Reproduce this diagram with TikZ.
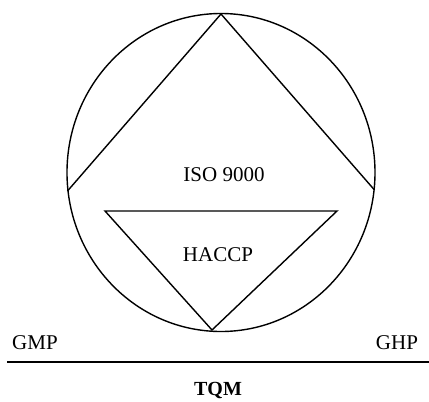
\documentclass[tikz,border=0pt]{standalone}
\usepackage{fontspec}
\setmainfont{Liberation Serif}
\begin{document}
\begin{tikzpicture}[x=1pt,y=-1pt,
  lbl/.style={font=\fontsize{21}{24}\selectfont, inner sep=0pt, anchor=center},
  ln/.style={line width=1.4pt, line join=miter}]
\useasboundingbox (0,0) rectangle (429,402);
% circle
\draw[ln] (221,172.5) ellipse [x radius=154, y radius=159];
% diamond (upper half)
\coordinate (top) at (221,14);
\coordinate (left) at (67.5,191);
\coordinate (right) at (374.5,190);
\draw[ln] (left) -- (top) -- (right);
% triangle
\coordinate (tl) at (105,211);
\coordinate (tr) at (337,211);
\coordinate (bot) at (212,330);
\draw[ln] (tl) -- (tr) -- (bot) -- cycle;
% labels
\node[lbl] (iso) at (224,175) {ISO 9000};
\node[lbl] (haccp) at (218,255) {HACCP};
\node[lbl] (gmp) at (35,343) {GMP};
\node[lbl] (ghp) at (397,343) {GHP};
\node[lbl, font=\fontsize{20}{24}\selectfont\bfseries] (tqm) at (218,390) {TQM};
% base line
\coordinate (la) at (7,362);
\coordinate (lb) at (429,362);
\draw[line width=1.5pt] (la) -- (lb);
\end{tikzpicture}
\end{document}
